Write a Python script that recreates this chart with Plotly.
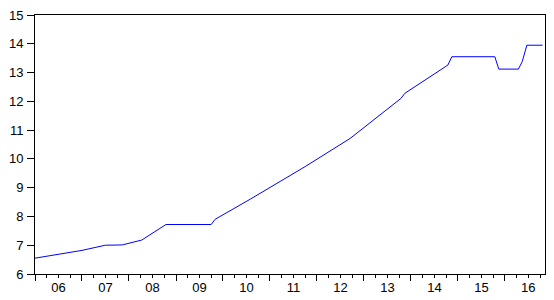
import plotly.graph_objects as go

# Vertices of the series (date, value)
dates = ["2006-01-01", "2006-07-01", "2007-01-01", "2007-07-01", "2007-11-10",
         "2008-04-10", "2008-10-15", "2009-10-01", "2009-11-01", "2010-08-01",
         "2011-10-01", "2012-09-15", "2013-03-01", "2013-10-15", "2013-11-15",
         "2014-10-15", "2014-11-15", "2015-10-15", "2015-11-15", "2016-04-15",
         "2016-05-15", "2016-06-20", "2016-10-20"]
values = [6.55, 6.68, 6.82, 7.00, 7.01,
          7.18, 7.72, 7.72, 7.90, 8.60,
          9.73, 10.71, 11.30, 12.10, 12.28,
          13.26, 13.55, 13.55, 13.12, 13.12,
          13.38, 13.95, 13.95]

y_ticks = [6, 7, 8, 9, 10, 11, 12, 13, 14, 15]

fig = go.Figure()
fig.add_trace(go.Scatter(x=dates, y=values, mode="lines",
                         line=dict(color="#0000FF", width=1), hoverinfo="skip"))

font = dict(family="Liberation Sans, Arial, sans-serif", size=13, color="#000000")

fig.update_layout(
    width=554, height=300,
    margin=dict(l=35, r=9, t=15, b=26),
    paper_bgcolor="white", plot_bgcolor="white",
    showlegend=False,
    font=font,
    xaxis=dict(
        type="date", automargin=False,
        range=["2006-01-01", "2016-11-08"],
        tick0="2006-01-01", dtick="M12",
        tickformat="%y", ticklabelmode="period",
        ticks="outside", ticklen=6, tickcolor="black", tickwidth=1,
        minor=dict(dtick="M3", tick0="2006-01-01", ticks="outside",
                   ticklen=3, tickcolor="black", tickwidth=1, showgrid=False),
        showline=True, linecolor="black", linewidth=1, mirror=True,
        showgrid=False, zeroline=False,
        ticklabelstandoff=-5,
        tickfont=font,
    ),
    yaxis=dict(
        range=[6, 15], tickvals=y_ticks, automargin=False,
        ticks="outside", ticklen=7, tickcolor="black", tickwidth=1,
        showline=True, linecolor="black", linewidth=1, mirror=True,
        showgrid=False, zeroline=False,
        ticklabelstandoff=1,
        tickfont=font,
    ),
)

fig.write_html("out.html",
               config={"displayModeBar": False, "staticPlot": True},
               post_script="document.body.style.margin='0';document.body.style.padding='0';")
